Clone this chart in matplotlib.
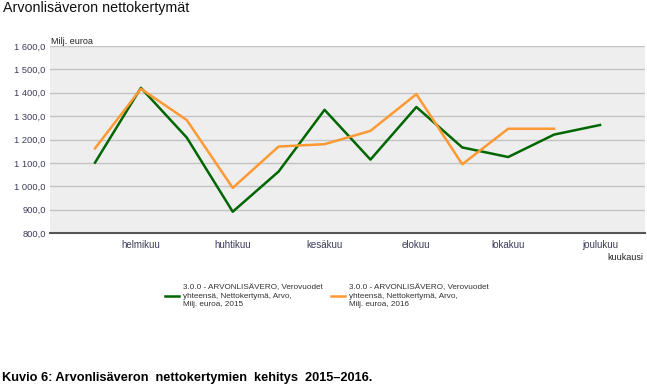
import numpy as np
import matplotlib as mpl
mpl.use('Agg')
import matplotlib.pyplot as plt
from matplotlib.lines import Line2D

months = ['tammikuu', 'helmikuu', 'maaliskuu', 'huhtikuu', 'toukokuu', 'kesäkuu',
          'heinäkuu', 'elokuu', 'syyskuu', 'lokakuu', 'marraskuu', 'joulukuu']
shown = ['helmikuu', 'huhtikuu', 'kesäkuu', 'elokuu', 'lokakuu', 'joulukuu']

vat_2015 = [1101, 1421, 1208, 891, 1063, 1327, 1114, 1339, 1166, 1125, 1221, 1262]
vat_2016 = [1162, 1417, 1283, 993, 1170, 1180, 1237, 1394, 1094, 1246, 1246]

lbl_2015 = '3.0.0 - ARVONLISÄVERO, Verovuodet\nyhteensä, Nettokertymä, Arvo,\nMilj. euroa, 2015'
lbl_2016 = '3.0.0 - ARVONLISÄVERO, Verovuodet\nyhteensä, Nettokertymä, Arvo,\nMilj. euroa, 2016'

green = '#006600'
orange = '#FF9933'
tickc = '#3c3c5a'

plt.rcParams['font.family'] = ['Liberation Sans', 'DejaVu Sans']

fig = plt.figure(figsize=(6.47, 3.85), dpi=100)
ax = fig.add_axes([50/647, 1-233/385, 595/647, 187/385])
ax.set_facecolor('#EEEEEE')

x15 = np.arange(len(vat_2015))
x16 = np.arange(len(vat_2016))
ax.plot(x15, vat_2015, color=green, lw=1.8, zorder=3)
ax.plot(x16, vat_2016, color=orange, lw=1.8, zorder=3)

ax.set_xlim(-0.98, 11.98)
ax.set_ylim(800, 1600)
yt = np.arange(800, 1601, 100)
ax.set_yticks(yt)
ax.set_yticklabels([f'{v:,.1f}'.replace(',', ' ').replace('.', ',') for v in yt],
                   fontsize=6.7, color=tickc)
ax.set_xticks([months.index(m) for m in shown])
ax.set_xticklabels(shown, fontsize=7, color=tickc)
ax.tick_params(axis='both', length=0, pad=3)
ax.tick_params(axis='x', pad=5)
ax.grid(axis='y', color='#C4C4C4', lw=1.0)
ax.set_axisbelow(True)
for s in ['top', 'right', 'left']:
    ax.spines[s].set_visible(False)
ax.spines['bottom'].set_color('#555555')
ax.spines['bottom'].set_linewidth(1.5)

fig.text(3/647, 1-8/385, 'Arvonlisäveron nettokertymät', fontsize=10.3,
         va='center', ha='left', color='#111111')
fig.text(51/647, 1-41/385, 'Milj. euroa', fontsize=6.5, va='center', ha='left',
         color='#222222')
fig.text(643/647, 1-257/385, 'kuukausi', fontsize=6.5, va='center', ha='right',
         color='#222222')

handles = [Line2D([], [], color=green, lw=1.8), Line2D([], [], color=orange, lw=1.8)]
leg = fig.legend(handles, [lbl_2015, lbl_2016], loc='center left',
                 bbox_to_anchor=(158/647, 1-296/385), ncol=2, frameon=False,
                 fontsize=5.9, handlelength=1.7, handletextpad=0.5, columnspacing=1.0,
                 labelcolor='#333333')
for t in leg.get_texts():
    t.set_linespacing(1.35)

fig.text(2/647, 1-378/385,
         'Kuvio 6: Arvonlisäveron  nettokertymien  kehitys  2015\u20132016.',
         fontsize=9.2, fontweight='bold', va='center', ha='left')

fig.savefig('out.png', dpi=100)
